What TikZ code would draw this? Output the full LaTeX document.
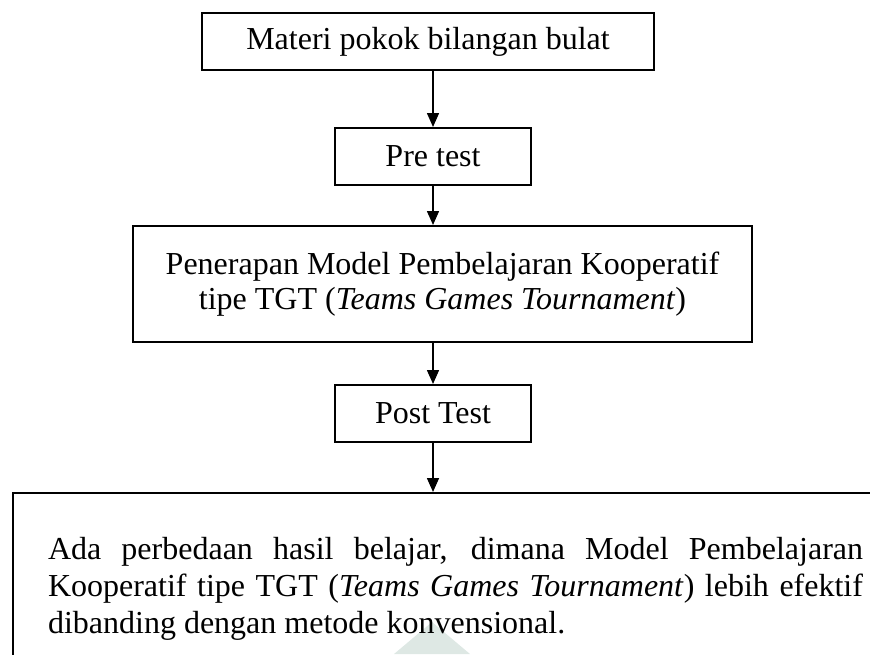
\documentclass[tikz,border=0pt]{standalone}
\usepackage{fontspec}
\setmainfont{Liberation Serif}
\usetikzlibrary{arrows.meta}

\definecolor{markgrey}{RGB}{222,232,228}

\tikzstyle{process} = [rectangle, draw=black, line width=0.8pt, minimum height=22.8pt,
inner sep=0pt, text centered, font=\fontsize{12.8}{14}\selectfont]
\tikzstyle{result} = [rectangle, draw=black, line width=0.8pt, text width=326pt, align=justify,
inner xsep=14pt, inner ysep=17.6pt, font=\fontsize{12.8}{14.8}\selectfont]
\tikzstyle{arrow} = [line width=0.6pt,-{Triangle[length=5.6pt,width=4.8pt]}]

\begin{document}
\begin{tikzpicture}[x=0.4pt,y=-0.4pt]
			\useasboundingbox (0,0) rectangle (870,654);
			\clip (0,0) rectangle (870,654);
			\fill [markgrey] (432,622) -- (470,654) -- (394,654) -- cycle;

			\node (materi) [process, minimum width=180.8pt] at (428,41.5) {Materi pokok bilangan bulat};
			\node (pretest) [process, minimum width=78.4pt] at (433,156.5) {Pre test};
			\node (model) [process, minimum width=247.6pt, minimum height=46.4pt, align=center] at (442.5,284)
				{Penerapan Model Pembelajaran Kooperatif\\tipe TGT (\textit{Teams Games Tournament})};
			\node (posttest) [process, minimum width=78.4pt] at (433,413.5) {Post Test};
			\node (hasil) [result, anchor=north west] at (12,492)
				{Ada perbedaan hasil belajar, dimana Model Pembelajaran\linebreak
				Kooperatif tipe TGT (\textit{Teams Games Tournament}) lebih efektif\linebreak
				dibanding dengan metode konvensional.};

			\draw [arrow] (materi.south -| pretest) -- (pretest.north);
			\draw [arrow] (pretest.south) -- (pretest.south |- model.north);
			\draw [arrow] (model.south -| posttest) -- (posttest.north);
			\draw [arrow] (posttest.south) -- (posttest.south |- hasil.north);

		\end{tikzpicture}
\end{document}
